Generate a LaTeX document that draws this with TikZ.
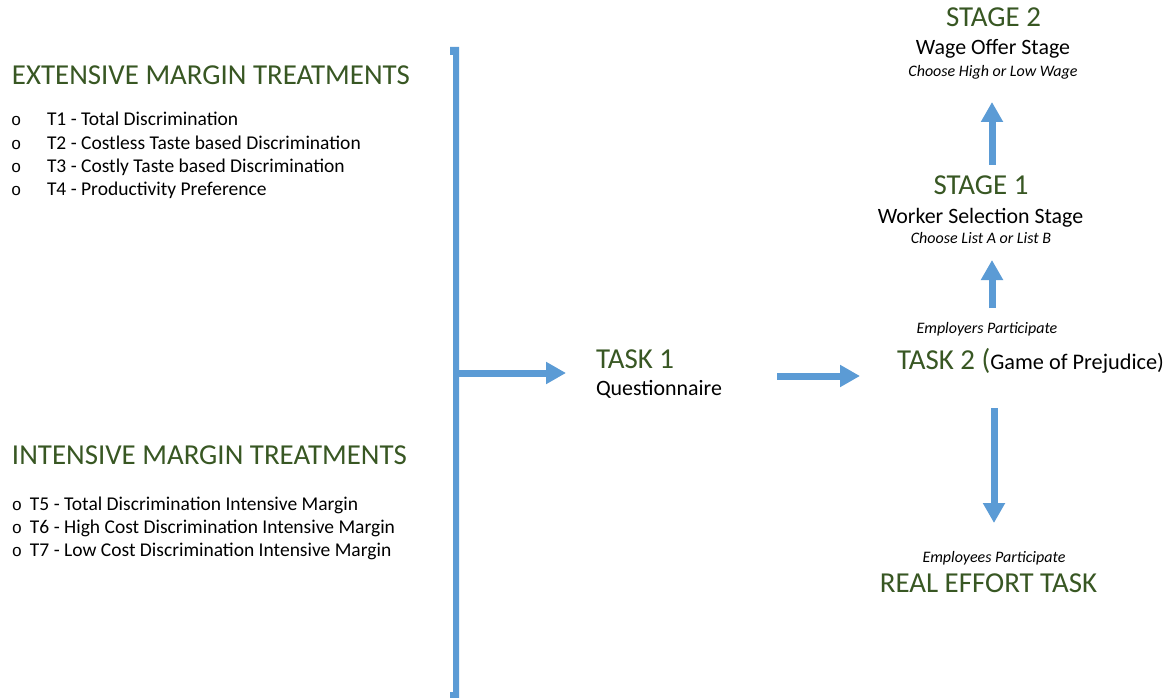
\documentclass[tikz,border=0pt]{standalone}
\usepackage{fontspec}
\setmainfont{Carlito}
\newfontfamily\bulletfont{Liberation Mono}
\usetikzlibrary{arrows.meta}
\definecolor{hdgreen}{HTML}{385723}
\definecolor{arrblue}{HTML}{5B9BD5}
\begin{document}
\begin{tikzpicture}[x=1pt,y=-1pt,
  txt/.style={inner sep=0pt,outer sep=0pt},
  heading/.style={txt,text=hdgreen,font=\fontsize{28.9}{32}\selectfont},
  item/.style={txt,anchor=base west,font=\fontsize{19.5}{22}\selectfont},
  bul/.style={txt,anchor=base west,font=\bulletfont\fontsize{17}{20}\selectfont},
  body/.style={txt,anchor=base,font=\fontsize{21.9}{25}\selectfont},
  note/.style={txt,anchor=base,font=\itshape\fontsize{16}{19}\selectfont},
  arr/.style={draw=arrblue,line width=7pt,-{Triangle[length=20pt,width=21pt]}}
]
\useasboundingbox[fill=white] (0,0) rectangle (1176,698);

% left bracket bar
\fill[arrblue] (450,47) -- (459,47) -- (459,700) -- (450,700) -- (450,692) -- (453,692) -- (453,55) -- (450,55) -- cycle;
\coordinate (bar) at (457,373);

% extensive margin
\node[heading,anchor=base west] (ext) at (12,85) {EXTENSIVE MARGIN TREATMENTS};
\node[bul] (b1) at (11,126) {o};
\node[item] (t1) at (47,126) {T1 - Total Discrimination};
\node[bul] (b2) at (11,150) {o};
\node[item] (t2) at (47,150) {T2 - Costless Taste based Discrimination};
\node[bul] (b3) at (11,173) {o};
\node[item] (t3) at (47,173) {T3 - Costly Taste based Discrimination};
\node[bul] (b4) at (11,196) {o};
\node[item] (t4) at (47,196) {T4 - Productivity Preference};

% intensive margin
\node[heading,anchor=base west] (int) at (12,464) {INTENSIVE MARGIN TREATMENTS};
\node[bul] (b5) at (12,510) {o};
\node[item] (t5) at (30,510) {T5 - Total Discrimination Intensive Margin};
\node[bul] (b6) at (12,533) {o};
\node[item] (t6) at (30,533) {T6 - High Cost Discrimination Intensive Margin};
\node[bul] (b7) at (12,556) {o};
\node[item] (t7) at (30,556) {T7 - Low Cost Discrimination Intensive Margin};

% task 1
\node[heading,anchor=base west] (task1) at (596,368) {TASK 1};
\node[body,anchor=base west] (task1q) at (596,395) {Questionnaire};

% task 2
\node[txt,anchor=base west] (task2) at (897,369) {{\color{hdgreen}\fontsize{28.9}{32}\selectfont TASK 2 (}{\fontsize{22.3}{25}\selectfont Game of Prejudice)}};

% stages
\node[heading,anchor=base] (st2) at (993.5,27) {STAGE 2};
\node[body] (st2b) at (993,55) {Wage Offer Stage};
\node[note] (st2c) at (993,77) {Choose High or Low Wage};

\node[heading,anchor=base] (st1) at (981,194) {STAGE 1};
\node[body] (st1b) at (980.5,223) {Worker Selection Stage};
\node[note] (st1c) at (981,243) {Choose List A or List B};

\node[note] (empr) at (987,333) {Employers Participate};
\node[note] (empe) at (994,562) {Employees Participate};
\node[heading,anchor=base] (ret) at (988.5,592) {REAL EFFORT TASK};

% arrow ends
\coordinate (a1e) at (566,373);
\coordinate (a2s) at (777,376);
\coordinate (a2e) at (860,376);
\coordinate (a3s) at (994,408);
\coordinate (a3e) at (994,523);
\coordinate (a4s) at (992,308);
\coordinate (a4e) at (992,260);
\coordinate (a5s) at (992,165);
\coordinate (a5e) at (992,102);

\draw[arr] (bar) -- (a1e);
\draw[arr] (a2s) -- (a2e);
\draw[arr] (a3s) -- (a3e);
\draw[arr] (a4s) -- (a4e);
\draw[arr] (a5s) -- (a5e);
\end{tikzpicture}
\end{document}
